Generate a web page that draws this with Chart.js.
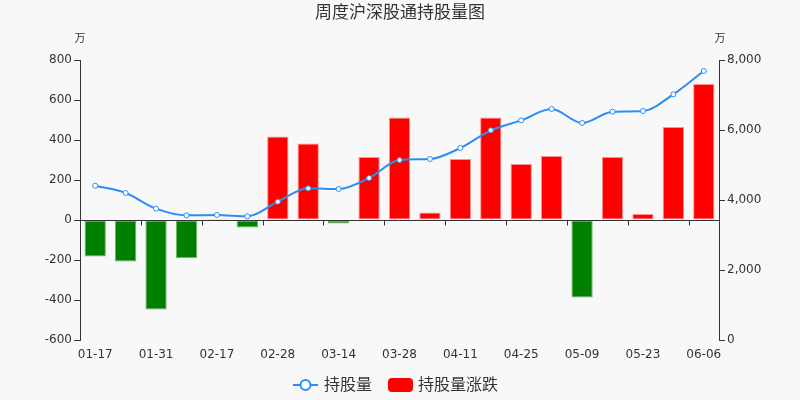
<!DOCTYPE html>
<html>
<head>
<meta charset="utf-8">
<script src="https://cdn.jsdelivr.net/npm/chart.js@4"></script>
<style>
  html, body { margin: 0; padding: 0; background: #f8f8f8; }
  #wrap { width: 800px; height: 400px; }
</style>
</head>
<body>
<div id="wrap"><canvas id="chart" width="800" height="400"></canvas></div>
<script>
const TITLE = '周度沪深股通持股量图';
const FONT  = '"DejaVu Sans", "Noto Sans CJK SC", sans-serif';

const dates = ['01-17','01-24','01-31','02-07','02-17','02-21','02-28','03-07','03-14','03-21','03-28',
               '04-04','04-11','04-18','04-25','05-02','05-09','05-16','05-23','05-30','06-06'];
// 持股量 (万)
const holdings = [4408, 4200, 3752, 3562, 3571, 3533, 3952, 4333, 4314, 4628, 5143,
                  5171, 5486, 5990, 6276, 6600, 6200, 6524, 6543, 7019, 7686];
// 持股量涨跌 (万)
const changes  = [-183, -207, -447, -190, 5, -38, 418, 382, -17, 315, 512,
                  38, 305, 512, 280, 320, -387, 315, 30, 465, 680];

const RED   = '#ff0000';
const GREEN = '#008000';
const BLUE  = '#2b8ef5';
const TEXT  = '#333333';

// x axis line sits on zero of the left scale, with ticks every 2 categories
const zeroAxisPlugin = {
  id: 'zeroAxis',
  afterDatasetsDraw(chart) {
    const c = chart.ctx;
    const a = chart.chartArea;
    const x = chart.scales.x;
    const y0 = Math.round(chart.scales.y.getPixelForValue(0)) + 0.5;
    const half = (x.getPixelForValue(1) - x.getPixelForValue(0)) / 2;
    c.save();
    c.strokeStyle = TEXT;
    c.lineWidth = 1;
    c.beginPath();
    c.moveTo(a.left, y0); c.lineTo(a.right, y0);
    for (let i = 2; i < dates.length; i += 2) {
      const px = Math.round(x.getPixelForValue(i) - half) + 0.5;
      c.moveTo(px, y0); c.lineTo(px, y0 + 5);
    }
    c.stroke();
    c.restore();
  }
};

// title, unit labels and legend drawn on the canvas
const decorPlugin = {
  id: 'decor',
  afterDraw(chart) {
    const c = chart.ctx;
    const a = chart.chartArea;
    c.save();
    c.fillStyle = TEXT;
    c.textBaseline = 'middle';
    c.textAlign = 'center';
    c.font = '17px ' + FONT;
    c.fillText(TITLE, 400, 14);

    c.font = '11px ' + FONT;
    c.fillText('万', a.left, 39);
    c.fillText('万', a.right + 1, 39);

    // legend
    const ly = 385;
    c.strokeStyle = BLUE;
    c.lineWidth = 2;
    c.beginPath(); c.moveTo(293, ly); c.lineTo(318, ly); c.stroke();
    c.fillStyle = '#ffffff';
    c.beginPath(); c.arc(305.5, ly, 5, 0, Math.PI * 2); c.fill(); c.stroke();

    c.textAlign = 'left';
    c.fillStyle = TEXT;
    c.font = '16px ' + FONT;
    c.fillText('持股量', 324, ly + 1);

    c.fillStyle = RED;
    c.beginPath();
    c.roundRect(388, ly - 7, 25, 14, 4);
    c.fill();
    c.fillStyle = TEXT;
    c.fillText('持股量涨跌', 418, ly + 1);
    c.restore();
  }
};

new Chart(document.getElementById('chart'), {
  data: {
    labels: dates,
    datasets: [
      {
        type: 'line',
        label: '持股量',
        data: holdings,
        yAxisID: 'y1',
        borderColor: BLUE,
        borderWidth: 2,
        tension: 0.4,
        cubicInterpolationMode: 'monotone',
        pointRadius: 2.5,
        pointBorderWidth: 1,
        pointBackgroundColor: '#ffffff',
        pointBorderColor: BLUE,
        order: 0,
      },
      {
        type: 'bar',
        label: '持股量涨跌',
        data: changes,
        yAxisID: 'y',
        backgroundColor: changes.map(v => v >= 0 ? RED : GREEN),
        borderColor: changes.map(v => v >= 0 ? 'rgba(255,120,120,0.8)' : 'rgba(80,160,80,0.8)'),
        borderWidth: 1,
        borderSkipped: false,
        barPercentage: 0.7,
        categoryPercentage: 1,
        order: 1,
      },
    ],
  },
  options: {
    responsive: false,
    animation: false,
    layout: { padding: { top: 60, bottom: 36, left: 0, right: 0 } },
    plugins: {
      legend: { display: false },
      title: { display: false },
      tooltip: { enabled: false },
    },
    scales: {
      x: {
        offset: true,
        afterFit: s => { s.height = 24; },
        border: { display: false },
        grid: {
          offset: true,
          display: true,
          drawOnChartArea: false,
          drawTicks: true,
          tickLength: 5,
          color: 'rgba(0,0,0,0)',
        },
        ticks: {
          autoSkip: false,
          maxRotation: 0,
          color: TEXT,
          padding: 3,
          font: { family: FONT, size: 12 },
          callback: (v, i) => i % 2 === 0 ? dates[i] : '',
        },
      },
      y: {
        position: 'left',
        min: -600,
        max: 800,
        afterFit: s => { s.width = 80; },
        border: { display: true, color: TEXT, width: 1 },
        grid: {
          drawOnChartArea: false,
          tickLength: 6,
          color: TEXT,
        },
        ticks: {
          stepSize: 200,
          color: TEXT,
          padding: 2,
          font: { family: FONT, size: 12 },
        },
      },
      y1: {
        position: 'right',
        min: 0,
        max: 8000,
        afterFit: s => { s.width = 81; },
        border: { display: true, color: TEXT, width: 1 },
        grid: {
          drawOnChartArea: false,
          tickLength: 6,
          color: TEXT,
        },
        ticks: {
          stepSize: 2000,
          color: TEXT,
          padding: 2,
          font: { family: FONT, size: 12 },
          callback: v => v.toLocaleString('en-US'),
        },
      },
    },
  },
  plugins: [zeroAxisPlugin, decorPlugin],
});
</script>
</body>
</html>
